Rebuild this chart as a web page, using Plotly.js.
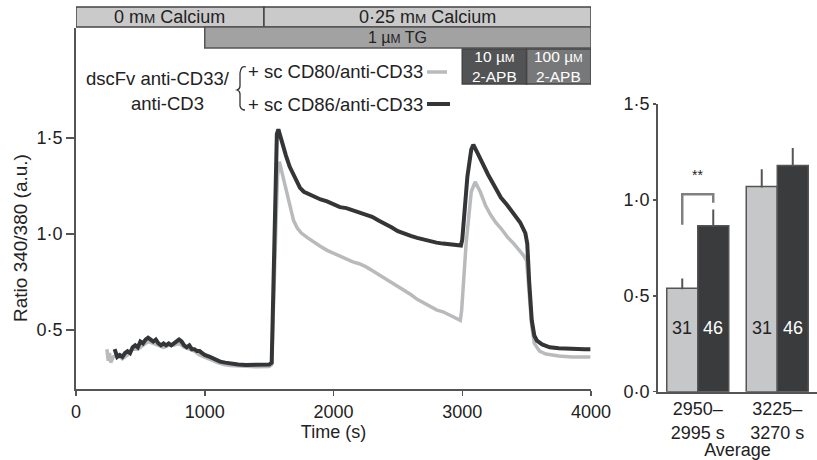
<!DOCTYPE html>
<html><head><meta charset="utf-8">
<script src="https://cdn.plot.ly/plotly-3.0.1.min.js"></script>
<style>html,body{margin:0;padding:0;background:#fff}</style>
</head><body><div id="chart" style="width:817px;height:460px"></div>
<script>
// ---- Time course data ----
const timeCD80 = [240,250,260,270,290,320,360,400,440,480,520,560,600,640,680,720,760,800,840,880,920,960,1000,1050,1100,1150,1200,1300,1400,1500,1520,1565,1580,1600,1620,1640,1660,1690,1720,1750,1800,1850,1900,1950,2000,2050,2100,2150,2200,2250,2300,2350,2400,2450,2500,2550,2600,2650,2700,2750,2800,2850,2900,2950,2985,2995,3030,3070,3100,3140,3180,3220,3260,3300,3350,3400,3450,3480,3500,3520,3540,3560,3600,3650,3750,3850,3995];
const ratioCD80 = [0.40,0.34,0.38,0.33,0.36,0.37,0.35,0.37,0.40,0.40,0.42,0.44,0.43,0.42,0.41,0.42,0.42,0.43,0.41,0.40,0.39,0.37,0.36,0.345,0.33,0.32,0.315,0.31,0.308,0.31,0.32,1.30,1.377,1.32,1.26,1.20,1.14,1.07,1.03,1.005,0.98,0.955,0.935,0.915,0.90,0.885,0.87,0.855,0.845,0.83,0.81,0.79,0.77,0.75,0.73,0.705,0.685,0.66,0.64,0.62,0.605,0.595,0.58,0.565,0.55,0.60,0.95,1.22,1.272,1.22,1.15,1.10,1.06,1.03,0.985,0.95,0.91,0.885,0.86,0.70,0.52,0.43,0.39,0.375,0.365,0.36,0.36];
const timeCD86 = [300,310,320,340,360,380,400,420,440,460,480,500,520,540,560,580,600,620,640,660,680,700,720,740,760,780,800,820,840,860,880,900,920,940,960,980,1000,1040,1080,1120,1160,1200,1260,1320,1380,1440,1500,1520,1560,1572,1600,1630,1660,1700,1740,1770,1800,1850,1900,1950,2000,2050,2100,2150,2200,2250,2300,2350,2400,2450,2500,2550,2600,2650,2700,2750,2800,2850,2900,2950,2990,3000,3010,3040,3070,3086,3120,3160,3200,3250,3300,3350,3400,3450,3490,3505,3520,3540,3560,3580,3620,3680,3750,3850,3950,3995];
const ratioCD86 = [0.40,0.38,0.36,0.37,0.36,0.38,0.39,0.38,0.41,0.42,0.41,0.44,0.43,0.45,0.46,0.45,0.44,0.45,0.43,0.42,0.43,0.42,0.43,0.42,0.43,0.44,0.45,0.44,0.42,0.41,0.42,0.40,0.40,0.39,0.39,0.38,0.37,0.36,0.345,0.335,0.33,0.325,0.32,0.318,0.318,0.318,0.32,0.33,1.52,1.545,1.47,1.41,1.35,1.29,1.24,1.22,1.21,1.195,1.18,1.17,1.155,1.14,1.135,1.125,1.115,1.105,1.09,1.07,1.055,1.035,1.015,1.0,0.99,0.98,0.97,0.96,0.955,0.95,0.945,0.94,0.94,0.97,1.05,1.30,1.44,1.465,1.42,1.36,1.31,1.25,1.19,1.15,1.105,1.06,1.005,0.95,0.75,0.55,0.47,0.445,0.425,0.41,0.405,0.40,0.40,0.40];

// ---- Bar chart data ----
const barCategories = ['2950–<br>2995 s', '3225–<br>3270 s'];
const meanCD80 = [0.54, 1.07];
const errCD80 = [0.045, 0.085];
const meanCD86 = [0.865, 1.18];
const errCD86 = [0.08, 0.085];
const nCD80 = ['31', '31'];
const nCD86 = ['46', '46'];

// ---- Condition bars ----
const sm = s => '<span style="font-size:0.75em">' + s + '</span>';
const calciumLabels = ['0 m' + sm('M') + ' Calcium', '0·25 m' + sm('M') + ' Calcium'];
const calciumStart = [0, 1460];
const calciumEnd = [1460, 4000];
const tgLabels = ['1 µ' + sm('M') + ' TG'];
const tgStart = [1000];
const tgEnd = [4000];
const apbLabels = ['10 µ' + sm('M') + '<br>2-APB', '100 µ' + sm('M') + '<br>2-APB'];
const apbStart = [3000, 3500];
const apbEnd = [3500, 4000];

const W = 817, H = 460;
const py = v => 1 - v / H;
const px = v => v / W;
const FONT = 'Liberation Sans, Arial, sans-serif';
const AX = '#555';
const FS = 18;

const traces = [
  {x: timeCD80, y: ratioCD80, type: 'scatter', mode: 'lines', line: {color: '#b9babc', width: 3.5}, xaxis: 'x', yaxis: 'y', hoverinfo: 'skip'},
  {x: timeCD86, y: ratioCD86, type: 'scatter', mode: 'lines', line: {color: '#343537', width: 4}, xaxis: 'x', yaxis: 'y', hoverinfo: 'skip'},
  {x: barCategories, y: meanCD80, type: 'bar', xaxis: 'x2', yaxis: 'y2',
   marker: {color: '#c6c7c9', line: {color: '#555', width: 1.5}},
   error_y: {type: 'data', symmetric: false, array: errCD80, arrayminus: [0, 0], color: '#555', thickness: 2, width: 1}},
  {x: barCategories, y: meanCD86, type: 'bar', xaxis: 'x2', yaxis: 'y2',
   marker: {color: '#3a3b3d', line: {color: '#555', width: 1.5}},
   error_y: {type: 'data', symmetric: false, array: errCD86, arrayminus: [0, 0], color: '#555', thickness: 2, width: 1}}
];

const shapes = [];
const annotations = [];
function condBars(labels, s, e, y0, y1, fill, border, fcolor, fsize) {
  labels.forEach((lab, i) => {
    shapes.push({type: 'rect', xref: 'x', yref: 'paper', x0: s[i], x1: e[i], y0: py(y1), y1: py(y0),
      fillcolor: fill[i], line: {color: border, width: 1.5}, layer: 'above'});
    annotations.push({xref: 'x', yref: 'paper', x: (s[i] + e[i]) / 2, y: py((y0 + y1) / 2), text: lab,
      showarrow: false, font: {family: FONT, size: fsize, color: fcolor}, xanchor: 'center', yanchor: 'middle'});
  });
}
condBars(calciumLabels, calciumStart, calciumEnd, 7, 27, ['#cacacb', '#cacacb'], '#444', '#222', 18);
condBars(tgLabels, tgStart, tgEnd, 27, 48, ['#a2a2a3'], '#555', '#222', 16);
condBars(apbLabels, apbStart, apbEnd, 49, 84, ['#525355', '#77787a'], '#444', '#fff', 15.5);

// legend
const legFont = {family: FONT, size: 18.5, color: '#222'};
annotations.push({xref: 'paper', yref: 'paper', x: px(84), y: py(78), xanchor: 'left', yanchor: 'middle', text: 'dscFv anti-CD33/', showarrow: false, font: legFont});
annotations.push({xref: 'paper', yref: 'paper', x: px(129), y: py(103), xanchor: 'left', yanchor: 'middle', text: 'anti-CD3', showarrow: false, font: legFont});
annotations.push({xref: 'paper', yref: 'paper', x: px(246), y: py(71), xanchor: 'left', yanchor: 'middle', text: '+ sc CD80/anti-CD33', showarrow: false, font: legFont});
annotations.push({xref: 'paper', yref: 'paper', x: px(246), y: py(104), xanchor: 'left', yanchor: 'middle', text: '+ sc CD86/anti-CD33', showarrow: false, font: legFont});
shapes.push({type: 'line', xref: 'paper', yref: 'paper', x0: px(427), x1: px(447), y0: py(72), y1: py(72), line: {color: '#b9babc', width: 3.5}});
shapes.push({type: 'line', xref: 'paper', yref: 'paper', x0: px(427), x1: px(450), y0: py(104), y1: py(104), line: {color: '#343537', width: 4}});
// brace
shapes.push({type: 'path', xref: 'paper', yref: 'paper',
  path: `M ${px(246)} ${py(67)} Q ${px(241)} ${py(65)} ${px(240)} ${py(73)} L ${px(240)} ${py(86)} Q ${px(240)} ${py(89)} ${px(237)} ${py(90)} Q ${px(240)} ${py(91)} ${px(240)} ${py(94)} L ${px(240)} ${py(106)} Q ${px(241)} ${py(110)} ${px(245)} ${py(110)}`,
  line: {color: '#333', width: 1.3}});

// y-axis title
annotations.push({xref: 'paper', yref: 'paper', x: px(20), y: py(238), text: 'Ratio 340/380 (a.u.)', textangle: -90,
  showarrow: false, xanchor: 'center', yanchor: 'middle', font: {family: FONT, size: 19, color: '#222'}});

// n labels in bars
barCategories.forEach((c, i) => {
  annotations.push({xref: 'x2', yref: 'y2', x: c, y: 0.33, xshift: -15.5, text: nCD80[i], showarrow: false, font: {family: FONT, size: FS, color: '#222'}});
  annotations.push({xref: 'x2', yref: 'y2', x: c, y: 0.33, xshift: 15.5, text: nCD86[i], showarrow: false, font: {family: FONT, size: FS, color: '#fff'}});
});
// significance bracket
shapes.push({type: 'path', xref: 'x2', yref: 'y2', path: 'M -0.195 0.87 L -0.195 1.03 L 0.195 1.03 L 0.195 0.985', line: {color: '#808080', width: 2.5}});
annotations.push({xref: 'x2', yref: 'y2', x: 0, y: 1.13, text: '**', showarrow: false, font: {family: FONT, size: 14, color: '#222'}});

const layout = {
  width: W, height: H, margin: {l: 0, r: 0, t: 0, b: 0},
  paper_bgcolor: '#fff', plot_bgcolor: '#fff', showlegend: false,
  font: {family: FONT, color: '#222', size: FS},
  barmode: 'group', bargap: 0.22, bargroupgap: 0,
  xaxis: {domain: [px(76), px(591)], range: [0, 4000], anchor: 'y', tickvals: [0, 1000, 2000, 3000, 4000],
    ticks: 'outside', ticklen: 5, tickwidth: 1.5, tickcolor: AX, showline: true, linecolor: AX, linewidth: 2,
    showgrid: false, zeroline: false, tickfont: {size: FS}, title: {text: 'Time (s)', font: {size: FS}, standoff: 2}},
  yaxis: {domain: [py(389), py(28)], range: [0.1927, 2.073], anchor: 'x', tickvals: [0.5, 1, 1.5], ticktext: ['0·5', '1·0', '1·5'],
    ticks: 'outside', ticklen: 8, tickwidth: 2, tickcolor: AX, showline: true, linecolor: AX, linewidth: 2,
    showgrid: false, zeroline: false, tickfont: {size: FS}},
  xaxis2: {domain: [px(658), 1], anchor: 'y2', type: 'category', showline: true, linecolor: AX, linewidth: 2,
    ticks: '', showgrid: false, zeroline: false, tickfont: {size: FS}, title: {text: 'Average', font: {size: FS}, standoff: 0}},
  yaxis2: {domain: [py(391.7), py(104)], range: [0, 1.5], anchor: 'x2', tickvals: [0, 0.5, 1, 1.5], ticktext: ['0·0', '0·5', '1·0', '1·5'],
    ticks: 'outside', ticklen: 3, tickwidth: 1.5, tickcolor: AX, showline: true, linecolor: AX, linewidth: 2,
    showgrid: false, zeroline: false, tickfont: {size: FS}},
  shapes: shapes, annotations: annotations
};
Plotly.newPlot('chart', traces, layout, {displayModeBar: false, staticPlot: true});
</script></body></html>
